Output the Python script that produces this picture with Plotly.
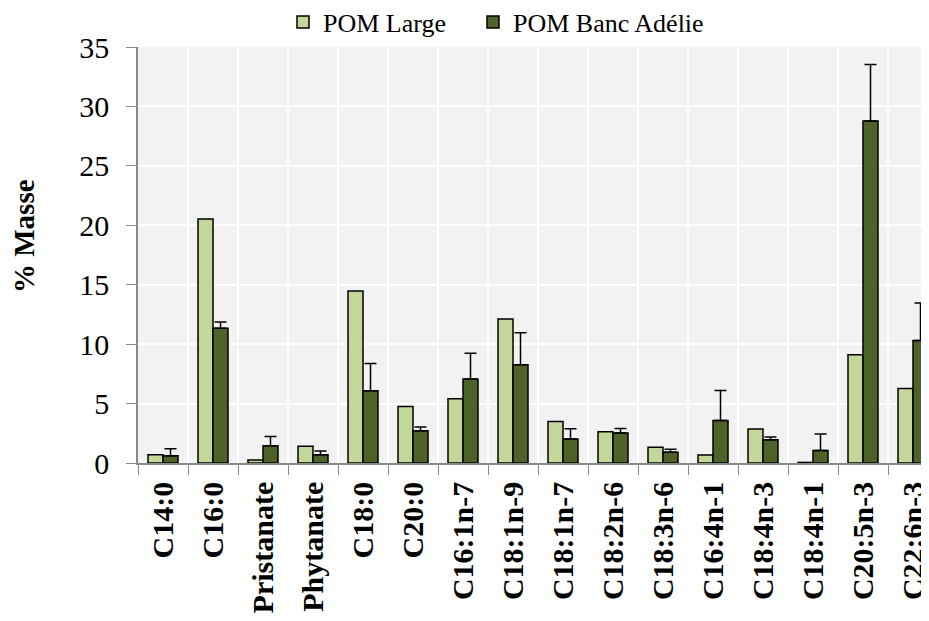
import plotly.graph_objects as go

categories = ["C14:0", "C16:0", "Pristanate", "Phytanate", "C18:0", "C20:0",
              "C16:1n-7", "C18:1n-9", "C18:1n-7", "C18:2n-6", "C18:3n-6",
              "C16:4n-1", "C18:4n-3", "C18:4n-1", "C20:5n-3", "C22:6n-3"]
pom_large = [0.70, 20.52, 0.25, 1.40, 14.48, 4.76, 5.40, 12.12, 3.50, 2.63,
             1.32, 0.67, 2.86, 0.05, 9.10, 6.27]
pom_adelie = [0.62, 11.34, 1.46, 0.70, 6.08, 2.72, 7.06, 8.26, 2.02, 2.52,
              0.90, 3.58, 1.96, 1.06, 28.78, 10.30]
adelie_err = [0.58, 0.53, 0.78, 0.31, 2.30, 0.30, 2.18, 2.69, 0.86, 0.39,
              0.25, 2.52, 0.22, 1.38, 4.74, 3.17]

FONT = "Liberation Serif, Times New Roman, serif"

fig = go.Figure()
fig.add_trace(go.Bar(
    name="POM Large", x=categories, y=pom_large, legend="legend",
    marker=dict(color="#c4d79b", line=dict(color="black", width=1.5)),
))
fig.add_trace(go.Bar(
    name="POM Banc Adélie", x=categories, y=pom_adelie, legend="legend2",
    marker=dict(color="#4f6228", line=dict(color="black", width=1.5)),
    error_y=dict(type="data", symmetric=False, array=adelie_err,
                 arrayminus=[0] * len(adelie_err),
                 color="black", thickness=1.5, width=6),
))

legend_common = dict(orientation="h", y=1.06, yanchor="middle", xanchor="left",
                     font=dict(size=26, family=FONT, color="black"), itemwidth=30,
                     bgcolor="rgba(0,0,0,0)")

fig.update_layout(
    width=921, height=613,
    margin=dict(l=130, r=0, t=39, b=158, autoexpand=False),
    paper_bgcolor="white", plot_bgcolor="#f2f2f2",
    barmode="group", bargap=0.4, bargroupgap=0,
    font=dict(family=FONT, color="black"),
    legend=dict(x=0.1833, **legend_common),
    legend2=dict(x=0.4235, **legend_common),
    showlegend=True,
    annotations=[dict(text="<b>% Masse</b>", xref="paper", yref="paper",
                      x=0, y=(463 - 236) / 416, xshift=-114, showarrow=False,
                      textangle=-90, xanchor="center", yanchor="middle",
                      font=dict(size=29, family=FONT, color="black"))],
)
fig.update_xaxes(
    range=[-0.5, 15.32], tickson="boundaries", showgrid=True, gridcolor="white",
    gridwidth=1.5, ticks="outside", ticklen=10, tickcolor="#898989",
    showline=True, linecolor="#898989", linewidth=1.5, automargin=False,
    tickangle=-90, ticklabelstandoff=5,
    tickfont=dict(size=30, family=FONT, color="black", weight="bold"),
)
fig.update_yaxes(
    range=[0, 35], dtick=5, showgrid=True, gridcolor="white", gridwidth=1.5,
    ticks="outside", ticklen=10, tickcolor="#898989", automargin=False,
    showline=True, linecolor="#898989", linewidth=1.5, zeroline=False,
    ticklabelstandoff=11,
    tickfont=dict(size=30, family=FONT, color="black"),
)

fig.write_html("out.html")
